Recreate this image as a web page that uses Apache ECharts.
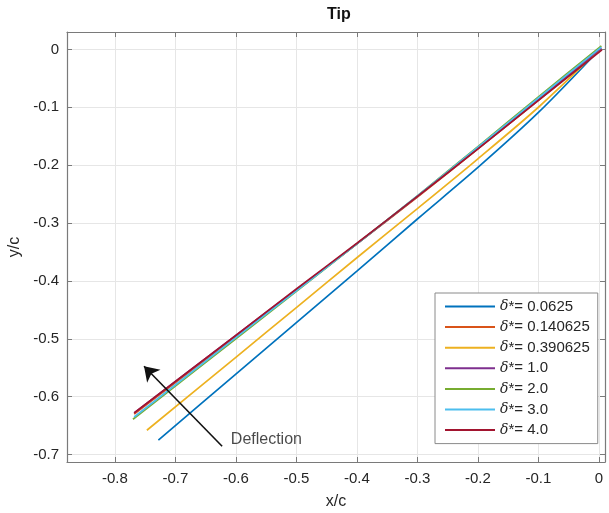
<!DOCTYPE html>
<html>
<head>
<meta charset="utf-8">
<script src="https://cdn.jsdelivr.net/npm/echarts@6/dist/echarts.min.js"></script>
<style>
  html, body { margin: 0; padding: 0; background: #fff; }
  #chart { width: 609px; height: 513px; }
</style>
</head>
<body>
<div id="chart"></div>
<script>
// tip trace for each delta*, x/c and y/c
const seriesNames = ['δ*= 0.0625', 'δ*= 0.140625', 'δ*= 0.390625', 'δ*= 1.0', 'δ*= 2.0', 'δ*= 3.0', 'δ*= 4.0'];
const seriesColors = ['#0072BD', '#D95319', '#EDB120', '#7E2F8E', '#77AC30', '#4DBEEE', '#A2142F'];

const xBlue = [-0.728, -0.6, -0.5, -0.4, -0.3, -0.2, -0.1, 0.003];
const yBlue = [-0.675, -0.561, -0.472, -0.383, -0.293, -0.204, -0.109, 0.002];
const xOrange = [-0.768, -0.6, -0.5, -0.4, -0.3, -0.2, -0.1, 0.003];
const yOrange = [-0.630, -0.496, -0.416, -0.336, -0.255, -0.172, -0.088, 0.001];
const xYellow = [-0.747, -0.6, -0.5, -0.4, -0.3, -0.2, -0.1, 0.003];
const yYellow = [-0.658, -0.532, -0.446, -0.360, -0.275, -0.189, -0.100, 0.002];
const xPurple = [-0.768, -0.6, -0.5, -0.4, -0.3, -0.2, -0.1, 0.004];
const yPurple = [-0.628, -0.494, -0.415, -0.336, -0.254, -0.171, -0.086, 0.002];
const xGreen = [-0.770, -0.6, -0.5, -0.4, -0.3, -0.2, -0.1, 0.004];
const yGreen = [-0.639, -0.500, -0.418, -0.336, -0.253, -0.168, -0.082, 0.006];
const xCyan = [-0.768, -0.6, -0.5, -0.4, -0.3, -0.2, -0.1, 0.004];
const yCyan = [-0.635, -0.498, -0.417, -0.336, -0.253, -0.169, -0.084, 0.004];
const xRed = [-0.768, -0.6, -0.5, -0.4, -0.3, -0.2, -0.1, 0.005];
const yRed = [-0.628, -0.494, -0.414, -0.335, -0.254, -0.172, -0.088, -0.001];

const xs = [xBlue, xOrange, xYellow, xPurple, xGreen, xCyan, xRed];
const ys = [yBlue, yOrange, yYellow, yPurple, yGreen, yCyan, yRed];

// axis ticks
const xTicks = [-0.8, -0.7, -0.6, -0.5, -0.4, -0.3, -0.2, -0.1, 0];
const yTicks = [-0.7, -0.6, -0.5, -0.4, -0.3, -0.2, -0.1, 0];

// "Deflection" arrow, tail -> head, and label spot
const arrowTail = [-0.6227, -0.6856];
const arrowHead = [-0.7517, -0.5474];
const arrowText = [-0.6083, -0.674];

const xMin = -0.879, xMax = 0.01;
const yMin = -0.7128, yMax = 0.03;

const font = "'Liberation Sans', Arial, sans-serif";
const axisGray = '#7a7a7a';
const textDark = '#262626';

const myChart = echarts.init(document.getElementById('chart'));

const series = seriesNames.map((name, i) => ({
  name,
  type: 'line',
  symbol: 'none',
  showSymbol: false,
  smooth: 0.3,
  animation: false,
  lineStyle: { width: 1.7, color: seriesColors[i] },
  itemStyle: { color: seriesColors[i] },
  data: xs[i].map((x, k) => [x, ys[i][k]]),
}));

// arrow + label
series.push({
  type: 'scatter',
  symbolSize: 0,
  silent: true,
  animation: false,
  data: [arrowText],
  label: {
    show: true,
    position: 'right',
    distance: 0,
    formatter: 'Deflection',
    color: '#1a1a1a',
    fontSize: 16,
    fontFamily: font,
  },
  markLine: {
    silent: true,
    animation: false,
    symbol: ['none', 'arrow'],
    symbolSize: 14,
    label: { show: false },
    lineStyle: { color: '#111', width: 1.6, type: 'solid' },
    data: [[{ coord: arrowTail }, { coord: arrowHead }]],
  },
});

const baseAxis = (ticks) => ({
  type: 'value',
  axisLine: { show: true, onZero: false, lineStyle: { color: axisGray, width: 1.2 } },
  axisTick: { show: true, inside: true, length: 5, customValues: ticks, lineStyle: { color: axisGray } },
});

const option = {
  backgroundColor: '#fff',
  animation: false,
  title: {
    text: 'Tip',
    left: 322,
    top: 2,
    textStyle: { fontSize: 16, fontWeight: 'bold', color: '#111', fontFamily: font },
  },
  grid: { left: 67, right: 4, top: 32, bottom: 51, containLabel: false, outerBoundsMode: 'none' },
  legend: {
    data: seriesNames,
    orient: 'vertical',
    left: 435,
    top: 293,
    padding: [5, 8, 5, 10],
    icon: 'rect',
    itemWidth: 50,
    itemHeight: 2,
    itemGap: 3.6,
    itemTextGap: 5,
    backgroundColor: '#fff',
    borderColor: '#8a8a8a',
    borderWidth: 1,
    borderRadius: 0,
    textStyle: {
      fontSize: 15,
      lineHeight: 17,
      color: textDark,
      fontFamily: font,
      rich: {
        d: { fontStyle: 'italic', fontFamily: "'DejaVu Serif', serif", fontSize: 14, lineHeight: 17, color: textDark },
      },
    },
    formatter: (name) => '{d|δ}' + name.slice(1),
  },
  xAxis: [
    Object.assign(baseAxis(xTicks), {
      min: xMin,
      max: xMax,
      position: 'bottom',
      name: 'x/c',
      nameLocation: 'middle',
      nameGap: 32,
      nameTextStyle: { fontSize: 16, color: textDark, fontFamily: font },
      axisLabel: { customValues: xTicks, margin: 9, fontSize: 15, color: textDark, fontFamily: font },
      splitLine: { show: true, lineStyle: { color: '#e6e6e6', width: 1 } },
    }),
    Object.assign(baseAxis(xTicks), {
      min: xMin,
      max: xMax,
      position: 'top',
      axisLabel: { show: false },
      splitLine: { show: false },
    }),
  ],
  yAxis: [
    Object.assign(baseAxis(yTicks), {
      min: yMin,
      max: yMax,
      position: 'left',
      name: 'y/c',
      nameLocation: 'middle',
      nameGap: 44,
      nameRotate: 90,
      nameTextStyle: { fontSize: 16, color: textDark, fontFamily: font },
      axisLabel: { customValues: yTicks, margin: 8, fontSize: 15, color: textDark, fontFamily: font },
      splitLine: { show: true, lineStyle: { color: '#e6e6e6', width: 1 } },
    }),
    Object.assign(baseAxis(yTicks), {
      min: yMin,
      max: yMax,
      position: 'right',
      axisLabel: { show: false },
      splitLine: { show: false },
    }),
  ],
  series,
};

myChart.setOption(option);
</script>
</body>
</html>
